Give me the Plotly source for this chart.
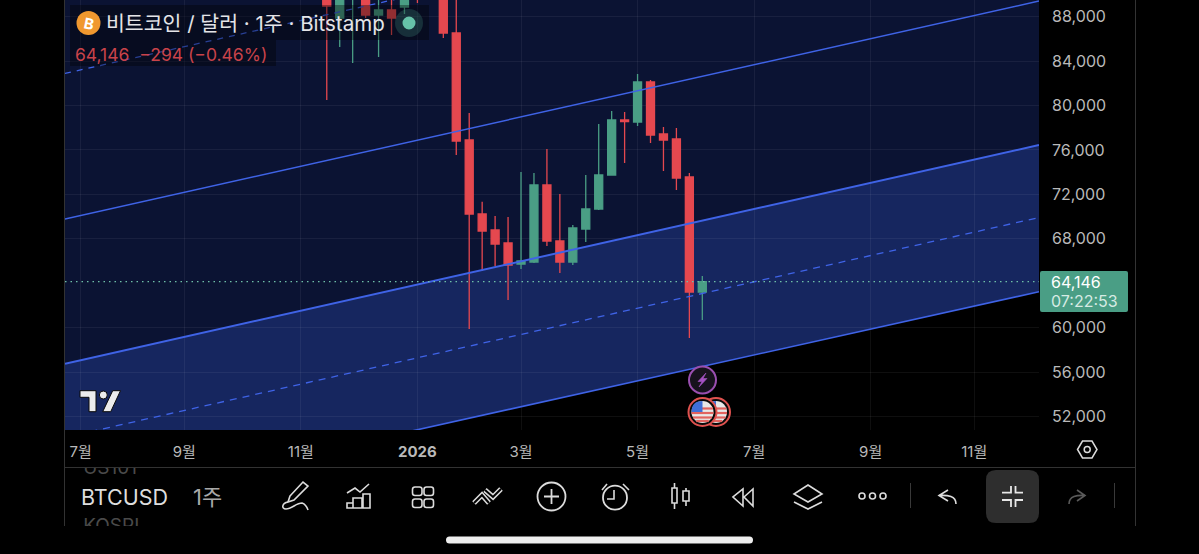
import re
import math
import plotly.graph_objects as go

# ---------- data ----------
weeks = ["2025-11-17","2025-11-24","2025-12-01","2025-12-08","2025-12-15","2025-12-22","2025-12-29",
         "2026-01-05","2026-01-12","2026-01-19","2026-01-26","2026-02-02","2026-02-09","2026-02-16",
         "2026-02-23","2026-03-02","2026-03-09","2026-03-16","2026-03-23","2026-03-30","2026-04-06",
         "2026-04-13","2026-04-20","2026-04-27","2026-05-04","2026-05-11","2026-05-18","2026-05-25",
         "2026-06-01","2026-06-08"]
opens  = [92000,87873,90500,91000,88143,88593,88863,94000,97000,92000,86523,76893,70233,68793,67623,
          65733,65913,72843,67803,65913,68883,70683,73743,78693,78513,82113,77433,76983,73563,63213]
highs  = [93500,92500,93000,92000,90500,90000,91000,95000,98000,93000,90000,79323,71340,70053,69963,
          74013,73923,76083,72033,69243,73743,78333,79503,79413,82833,82293,78063,77973,73923,64653]
lows   = [80493,85263,83823,87873,84363,86343,88233,89223,90200,86073,75543,59883,65103,65553,62493,
          65283,65823,67353,64923,65643,67713,70593,73700,74823,78153,76623,74103,72393,59073,60693]
closes = [88953,91500,92000,88143,88593,87873,90500,91000,92000,86523,76803,70233,68703,67533,65643,
          66003,72843,67803,65913,68973,70683,73743,78693,78558,82113,77343,76893,73473,63213,64146]

channel_dates = ["2025-06-28 12:00", "2026-12-07"]
top_dashed = [82887, 102543]
top_solid  = [69783, 89403]
mid_solid  = [56760, 76443]
mid_dashed = [50127, 69918]
low_solid  = [43773, 63240]
last_price = 64146

y_ticks = [52000,56000,60000,68000,72000,76000,80000,84000,88000]
x_tick_dates = ["2025-07-07","2025-09-01","2025-11-03","2026-01-05","2026-03-02","2026-05-04","2026-07-06","2026-09-07","2026-11-02"]
x_tick_text  = ["7월","9월","11월","<b>2026</b>","3월","5월","7월","9월","11월"]

W, H = 1199, 554
UP, DOWN = "#4a9e85", "#e5484f"
BLUE = "#3f63e6"
FONT = "Inter, 'Noto Sans CJK KR', sans-serif"
ICON = "#dcdcdc"
GRID = "rgba(255,255,255,0.06)"

# ---------- helpers working in screen pixels ----------
def fx(x): return x / W
def fy(y): return 1 - y / H

def conv(path):
    return re.sub(r"(-?[\d.]+),(-?[\d.]+)", lambda m: f"{fx(float(m[1])):.5f},{fy(float(m[2])):.5f}", path)

shapes = []
def pth(d, color=ICON, width=1.6, fill=None):
    shapes.append(dict(type="path", xref="paper", yref="paper", path=conv(d), layer="above",
                       line=dict(color=color, width=width), fillcolor=fill or "rgba(0,0,0,0)"))
def circ(cx, cy, r, color=ICON, width=1.6, fill=None):
    shapes.append(dict(type="circle", xref="paper", yref="paper", layer="above",
                       x0=fx(cx-r), x1=fx(cx+r), y0=fy(cy+r), y1=fy(cy-r),
                       line=dict(color=color, width=width), fillcolor=fill or "rgba(0,0,0,0)"))
def rect(x0, y0, x1, y1, fill, line=None, width=0):
    shapes.append(dict(type="rect", xref="paper", yref="paper", layer="above",
                       x0=fx(x0), x1=fx(x1), y0=fy(y1), y1=fy(y0),
                       line=dict(color=line or "rgba(0,0,0,0)", width=width), fillcolor=fill))
def rrect(x0, y0, x1, y1, r, color=ICON, width=1.6, fill=None):
    pth(f"M {x0+r},{y0} L {x1-r},{y0} Q {x1},{y0} {x1},{y0+r} L {x1},{y1-r} Q {x1},{y1} {x1-r},{y1} "
        f"L {x0+r},{y1} Q {x0},{y1} {x0},{y1-r} L {x0},{y0+r} Q {x0},{y0} {x0+r},{y0} Z", color, width, fill)

annotations = []
def txt(x, y, s, size, color, anchor="left", font=FONT, angle=0):
    annotations.append(dict(xref="paper", yref="paper", x=fx(x), y=fy(y), text=s, showarrow=False,
                            xanchor=anchor, yanchor="middle", textangle=angle,
                            font=dict(size=size, color=color, family=font), borderpad=0, borderwidth=0))

# ---------- channel fills, under the native gridlines ----------
def poly(xs, ys):
    return "M " + " L ".join(f"{x.replace(' ', '_')},{y}" for x, y in zip(xs, ys)) + " Z"

d0, d1 = channel_dates
shapes.append(dict(type="path", xref="x", yref="y", layer="below", line=dict(width=0), fillcolor="#0b1333",
                   path=poly([d0, d1, d1, d0], [mid_solid[0], mid_solid[1], 120000, 120000])))
shapes.append(dict(type="path", xref="x", yref="y", layer="below", line=dict(width=0), fillcolor="#16265f",
                   path=poly([d0, d1, d1, d0], [low_solid[0], low_solid[1], mid_solid[1], mid_solid[0]])))

# ---------- traces ----------
fig = go.Figure()
def chan(vals, width, dash="solid"):
    fig.add_trace(go.Scatter(x=channel_dates, y=vals, mode="lines", hoverinfo="skip", showlegend=False,
                             line=dict(color=BLUE, width=width, dash=dash)))
chan(top_dashed, 1.3, "6px,6px")
chan(top_solid, 1.5)
chan(mid_solid, 2)
chan(mid_dashed, 1.3, "7px,6px")
chan(low_solid, 1.6)
fig.add_trace(go.Scatter(x=channel_dates, y=[last_price, last_price], mode="lines", hoverinfo="skip", showlegend=False,
                         line=dict(color="#6fbfa8", width=1.2, dash="1.5px,4px")))
fig.add_trace(go.Candlestick(x=weeks, open=opens, high=highs, low=lows, close=closes, showlegend=False,
                             increasing=dict(line=dict(color=UP, width=1.3), fillcolor=UP),
                             decreasing=dict(line=dict(color=DOWN, width=1.3), fillcolor=DOWN),
                             whiskerwidth=0))
# faded watchlist symbols clipped by the toolbar strip
fig.add_trace(go.Scatter(x=[0.017, 0.017], y=[0.98, -0.03], mode="text", text=["US101", "KOSPI"],
                         textposition="middle right", xaxis="x2", yaxis="y2", cliponaxis=True,
                         textfont=dict(size=19, color="#4a4a4a", family=FONT), hoverinfo="skip", showlegend=False))

# ---------- overlay legend ----------
rect(70, 5, 429, 40, "rgba(0,0,0,0.36)")
rect(70, 40, 276, 66, "rgba(0,0,0,0.36)")
circ(88.5, 23, 12, "#f0982f", 0, "#f0982f")
txt(88.5, 23.5, "<b>B</b>", 15, "#ffffff", "center", angle=12)
txt(106, 23, "비트코인 / 달러 · 1주 · Bitstamp", 20.5, "#e4e4e8")
txt(75, 54, "64,146  −294 (−0.46%)", 17.5, "#c9434a")
circ(409, 23, 14, "rgba(0,0,0,0)", 0, "rgba(90,190,160,0.20)")
circ(409, 23, 6.5, "#66c2a8", 0, "#66c2a8")

# ---------- TradingView logo ----------
logo = "#ececec"
pth("M 80,390.7 L 96,390.7 L 96,411.7 L 89,411.7 L 89,397.3 L 80,397.3 Z", "#0a0a0a", 1, logo)
circ(103.3, 395, 4, "#0a0a0a", 1, logo)
pth("M 112.7,390.7 L 120.5,390.7 L 110.7,411.7 L 102.7,411.7 Z", "#0a0a0a", 1, logo)

# ---------- event badges ----------
circ(702.5, 380, 13.5, "#9a4fb0", 2, "#17121d")
pth("M 706,373 L 698,381.5 L 702,381.5 L 699,387 L 707,378.5 L 703,378.5 Z", "#a552c2", 0.6, "#a552c2")
def flag(cx, cy):
    circ(cx, cy, 14, "#e0524f", 2, "#0a0a0a")
    circ(cx, cy, 11, "#e8e8e8", 0, "#e8e8e8")
    for dy in (-3.5, 1.0, 5.5, 9.0):
        half = math.sqrt(max(121 - dy * dy, 0))
        pth(f"M {cx-half:.1f},{cy+dy} L {cx+half:.1f},{cy+dy}", "#e2635f", 2.2)
    pth(f"M {cx-11},{cy} L {cx},{cy} L {cx},{cy-11} Q {cx-11},{cy-11} {cx-11},{cy} Z", "#3f6fd8", 0, "#3f6fd8")
flag(716, 412)
flag(702.5, 412)

# ---------- frame ----------
FRAME = "#333333"
pth("M 64.5,0 L 64.5,526", FRAME, 1)
pth("M 1135.5,0 L 1135.5,526", FRAME, 1)
pth("M 65,467.5 L 1135,467.5", FRAME, 1)

# ---------- price tag ----------
rrect(1040, 271, 1128, 312, 2, UP, 0, UP)
txt(1051, 282, "64,146", 16, "#ffffff")
txt(1051, 300.5, "07:22:53", 16, "#d6ebe4")

# ---------- settings hexagon ----------
pth("M 1077.5,449.5 L 1082.5,441 L 1092,441 L 1097,449.5 L 1092,458 L 1082.5,458 Z", ICON, 1.5)
circ(1087.2, 449.5, 3, ICON, 1.5)

# ---------- toolbar ----------
txt(81, 497, "BTCUSD", 21.5, "#dedede")
txt(193, 497, "1주", 22, "#a8a8a8")
# pen
pth("M 290,496 L 303,482 L 308,486 L 294,500 L 288,502 Z", ICON)
pth("M 288,502 C 282,503 281,509 286,509 C 292,509 296,503 302,503 C 305,504 307,507 308,510", ICON)
# chart
pth("M 347,493 L 355,488 L 360,492 L 369,484", ICON)
pth("M 347,503 L 353,503 L 353,508 L 347,508 Z M 353,498 L 362,498 L 362,508 L 353,508 Z M 363,494 L 370,494 L 370,508 L 363,508 Z", ICON)
# grid
for gx in (412.5, 424):
    for gy in (487, 499):
        rrect(gx, gy, gx + 9.5, gy + 8.5, 2.5)
# double chevrons
pth("M 474,503 L 482,495 L 489,503", ICON, 5)
pth("M 485,490 L 493,497 L 501,489", ICON, 5)
pth("M 474,503 L 482,495 L 489,503", "#000000", 2)
pth("M 485,490 L 493,497 L 501,489", "#000000", 2)
# plus
circ(551.5, 496.5, 14, ICON, 1.8)
pth("M 544,496.5 L 559,496.5 M 551.5,489 L 551.5,504", ICON, 1.8)
# alarm
circ(615, 497.7, 12, ICON, 1.8)
pth("M 614,490 L 614,499 L 607,499", ICON)
pth("M 602,490 L 607,484 M 623,484 L 629,490", ICON)
# candles
pth("M 672,488 L 677,488 L 677,503 L 672,503 Z M 674.5,483 L 674.5,488 M 674.5,503 L 674.5,509", ICON)
pth("M 683,491 L 689,491 L 689,501 L 683,501 Z M 686,488 L 686,491 M 686,501 L 686,506", ICON)
# rewind
pth("M 733,497 L 743,489 L 743,506 Z M 744,497 L 753,489 L 753,506 Z", ICON)
# layers
pth("M 808,485 L 822,494 L 808,502 L 794,494 Z", ICON)
pth("M 794,502 L 808,509 L 822,502", ICON)
# dots
for dx in (862, 872.5, 883):
    circ(dx, 496, 3, ICON, 1.6)
# separators
pth("M 910.5,483 L 910.5,508", "#3a3a3a", 1)
pth("M 1114.5,483 L 1114.5,508", "#3a3a3a", 1)
# undo / redo
pth("M 948,490 L 939,495.5 L 948,501 M 939,495.5 C 948,495 956,496 956,504", ICON)
pth("M 1077,490 L 1085,495.5 L 1077,501 M 1085,495.5 C 1077,495 1069,496 1069,504", "#5a5a5a")
# collapse button
rrect(986, 470, 1039, 523, 10, "#2e2e2e", 0, "#2e2e2e")
pth("M 1002,492.7 L 1011,492.7 L 1011,486 M 1015.5,486 L 1015.5,492.7 L 1023,492.7 "
    "M 1002,500 L 1011,500 L 1011,507 M 1015.5,507 L 1015.5,500 L 1023,500", "#e8e8e8", 1.8)
# home indicator
rrect(446, 536.5, 753, 543.5, 3.5, "#eeeeee", 0, "#eeeeee")

# ---------- layout ----------
fig.update_layout(
    width=W, height=H, autosize=False,
    margin=dict(l=0, r=0, t=0, b=0, pad=0),
    paper_bgcolor="#000000", plot_bgcolor="#000000",
    showlegend=False, boxgap=0.38, boxgroupgap=0, hovermode=False,
    font=dict(family=FONT, color="#b9b9b9", size=16),
    shapes=shapes, annotations=annotations,
    xaxis=dict(domain=[65 / W, 1039 / W], type="date", range=channel_dates, rangeslider=dict(visible=False),
               tickmode="array", tickvals=x_tick_dates, ticktext=x_tick_text, showgrid=True,
               gridcolor=GRID, gridwidth=1, zeroline=False, showline=False,
               ticks="", ticklabelstandoff=11, tickfont=dict(size=15, color="#b9b9b9", family=FONT), anchor="y"),
    yaxis=dict(domain=[1 - 430 / H, 1], range=[50793, 89493], side="right", tickmode="array", tickvals=y_ticks,
               tickformat=",d", showgrid=True, gridcolor=GRID, gridwidth=1,
               zeroline=False, showline=False, ticks="", ticklabelstandoff=12,
               tickfont=dict(size=16, color="#b9b9b9", family=FONT), anchor="x"),
    xaxis2=dict(domain=[65 / W, 1135 / W], range=[0, 1], visible=False, anchor="y2"),
    yaxis2=dict(domain=[1 - 526 / H, 1 - 468 / H], range=[0, 1], visible=False, anchor="x2"),
)

fig.write_html("out.html", config=dict(displayModeBar=False),
               post_script="document.body.style.margin='0';document.body.style.background='#000';document.documentElement.style.overflow='hidden';")
